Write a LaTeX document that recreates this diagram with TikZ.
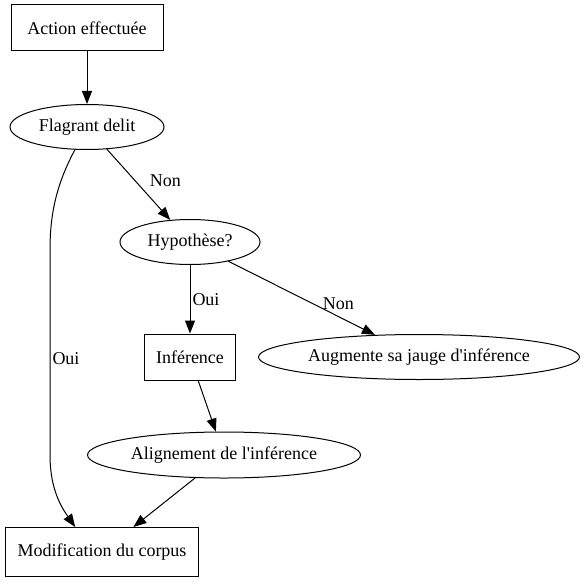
\documentclass[tikz,border=0pt]{standalone}
\usepackage{fontspec}
\setmainfont{Liberation Serif}
\usetikzlibrary{shapes.geometric,arrows.meta}

\begin{document}
\begin{tikzpicture}[x=1pt, y=-1pt, line width=1pt, >={Triangle[length=13pt,width=10pt]},
    box/.style = {draw, rectangle, inner sep=0pt, font=\fontsize{18}{20}\selectfont},
    oval/.style = {draw, ellipse, inner sep=0pt, font=\fontsize{18}{20}\selectfont},
    lbl/.style = {font=\fontsize{18}{20}\selectfont, inner sep=2pt}]
    \useasboundingbox (0,0) rectangle (585,583);
    \node[box, minimum width=152pt, minimum height=46pt](action) at (87,28) {Action effectuée};
    \node[oval, minimum width=154pt, minimum height=45pt](flag) at (87,127) {Flagrant delit};
    \node[oval, minimum width=140pt, minimum height=45pt](hyp) at (190,242) {Hypothèse?};
    \node[box, minimum width=91pt, minimum height=46pt](inf) at (190,357) {Inférence};
    \node[oval, minimum width=321pt, minimum height=45pt](jauge) at (419,357) {Augmente sa jauge d\textquotesingle inférence};
    \node[oval, minimum width=273pt, minimum height=46pt](align) at (224,455) {Alignement de l\textquotesingle inférence};
    \node[box, minimum width=193pt, minimum height=49pt](corpus) at (102,552) {Modification du corpus};
    \draw[->] (action) to (flag);
    \draw[->] (flag) to node[lbl, pos=0.45, anchor=west, xshift=12pt]{Non} (hyp);
    \draw[->] (hyp) to node[lbl, anchor=west]{Oui} (inf);
    \draw[->] (hyp) to node[lbl, pos=0.75, above=4pt]{Non} (jauge);
    \draw[->] (inf) to (align);
    \draw[->] (align) to (corpus);
    \draw[->] (flag.242) .. controls (56,185) and (50,215) .. (50,250)
        -- node[lbl, pos=0.53, anchor=west]{Oui} (50,455)
        .. controls (50,490) and (62,508) .. (corpus.137);
\end{tikzpicture}
\end{document}
